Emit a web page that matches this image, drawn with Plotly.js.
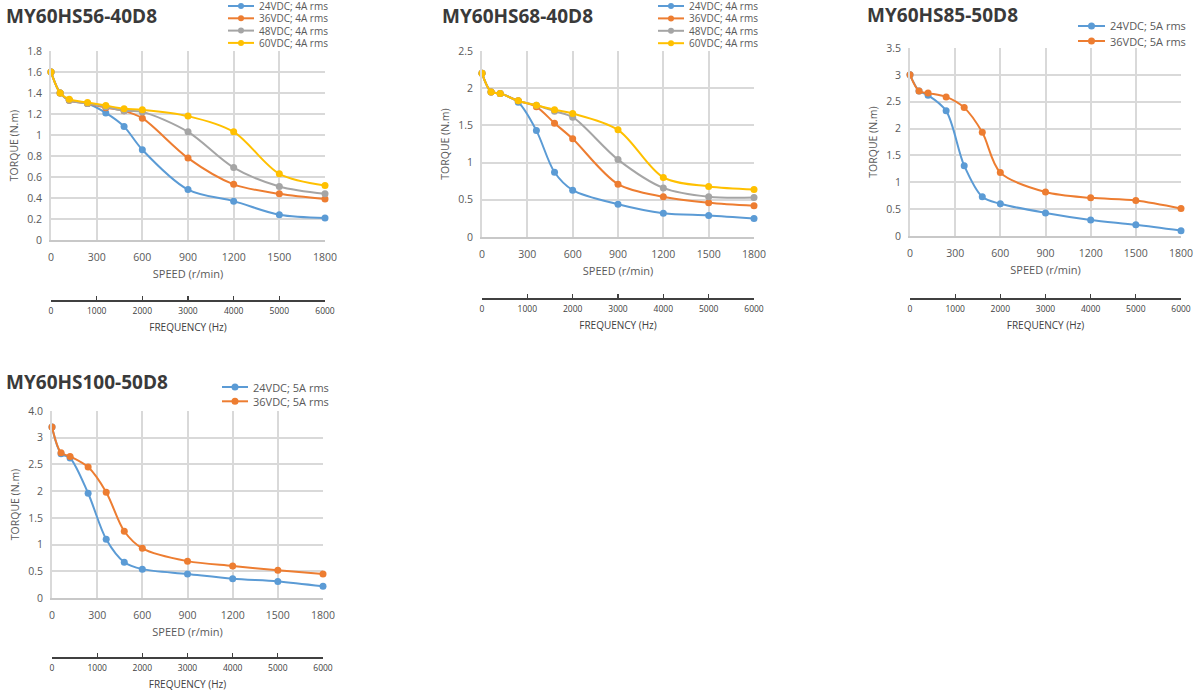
<!DOCTYPE html>
<html>
<head>
<meta charset="utf-8">
<script src="https://cdn.plot.ly/plotly-3.0.1.min.js"></script>
<style>html,body{margin:0;padding:0;background:#fff;}#chart{width:1200px;height:694px;}</style>
</head>
<body>
<div id="chart"></div>
<script>
// ---------------- DATA ----------------
const speed = [0, 60, 120, 240, 360, 480, 600, 900, 1200, 1500, 1800];
const freqTicks = [0, 1000, 2000, 3000, 4000, 5000, 6000];

const titles = ["MY60HS56-40D8", "MY60HS68-40D8", "MY60HS85-50D8", "MY60HS100-50D8"];
const names4A = ["24VDC; 4A rms", "36VDC; 4A rms", "48VDC; 4A rms", "60VDC; 4A rms"];
const names5A = ["24VDC; 5A rms", "36VDC; 5A rms"];

const t56_24 = [1.6, 1.4, 1.33, 1.3, 1.21, 1.08, 0.86, 0.48, 0.37, 0.24, 0.21];
const t56_36 = [1.6, 1.4, 1.33, 1.3, 1.26, 1.23, 1.16, 0.78, 0.53, 0.44, 0.39];
const t56_48 = [1.6, 1.4, 1.33, 1.3, 1.27, 1.23, 1.22, 1.03, 0.69, 0.51, 0.44];
const t56_60 = [1.6, 1.4, 1.34, 1.31, 1.28, 1.25, 1.24, 1.18, 1.03, 0.63, 0.52];

const t68_24 = [2.2, 1.95, 1.93, 1.81, 1.43, 0.87, 0.63, 0.44, 0.32, 0.29, 0.25];
const t68_36 = [2.2, 1.95, 1.93, 1.83, 1.75, 1.53, 1.32, 0.71, 0.54, 0.46, 0.42];
const t68_48 = [2.2, 1.95, 1.93, 1.83, 1.77, 1.69, 1.61, 1.04, 0.66, 0.54, 0.53];
const t68_60 = [2.2, 1.95, 1.93, 1.83, 1.77, 1.71, 1.66, 1.44, 0.80, 0.68, 0.64];

const t85_24 = [3.0, 2.7, 2.62, 2.33, 1.31, 0.73, 0.60, 0.43, 0.30, 0.21, 0.10];
const t85_36 = [3.0, 2.7, 2.66, 2.59, 2.39, 1.93, 1.18, 0.82, 0.71, 0.66, 0.51];

const t100_24 = [3.2, 2.7, 2.62, 1.96, 1.10, 0.67, 0.54, 0.45, 0.36, 0.31, 0.22];
const t100_36 = [3.2, 2.72, 2.65, 2.45, 1.98, 1.25, 0.93, 0.69, 0.60, 0.52, 0.45];

const y100TickVals = [0, 0.5, 1, 1.5, 2, 2.5, 3, 3.5];
const y100TickText = ["0", "0.5", "1", "1.5", "2", "2.5", "3", "4.0"];

// ---------------- STYLE / LAYOUT ----------------
const W = 1200, H = 694;
const PX = p => p / W;
const PY = p => 1 - p / H;
const colors = ["#5B9BD5", "#ED7D31", "#A5A5A5", "#FFC000"];
const FONT = "Open Sans, DejaVu Sans, sans-serif";
const GRAY = "#595959";
const GRID = "#d9d9d9";

const panels = [
  { title: titles[0], names: names4A, series: [t56_24, t56_36, t56_48, t56_60],
    box: {l: 51, r: 325, t: 51, b: 240}, yRange: [0, 1.8], dtick: 0.2,
    freqLine: 300, titleX: 4, titleY: 16,
    leg: {x0: 228, x1: 254, tx: 257, y0: 6, dy: 12.3, font: 10, ms: 3} },
  { title: titles[1], names: names4A, series: [t68_24, t68_36, t68_48, t68_60],
    box: {l: 482, r: 754, t: 51, b: 237}, yRange: [0, 2.5], dtick: 0.5,
    freqLine: 298, titleX: 440, titleY: 16,
    leg: {x0: 658, x1: 684, tx: 687, y0: 6, dy: 12.4, font: 10, ms: 3} },
  { title: titles[2], names: names5A, series: [t85_24, t85_36],
    box: {l: 910, r: 1181, t: 48, b: 236}, yRange: [0, 3.5], dtick: 0.5,
    freqLine: 298, titleX: 865, titleY: 15,
    leg: {x0: 1078, x1: 1105, tx: 1108, y0: 26, dy: 15, font: 11, ms: 3.5} },
  { title: titles[3], names: names5A, series: [t100_24, t100_36],
    box: {l: 52, r: 323, t: 411, b: 598}, yRange: [0, 3.5], tickvals: y100TickVals, ticktext: y100TickText,
    freqLine: 657, titleX: 4, titleY: 382,
    leg: {x0: 222, x1: 248, tx: 251, y0: 387, dy: 14.3, font: 11, ms: 3.5} }
];

const data = [];
const layout = {
  width: W, height: H,
  margin: {l: 0, r: 0, t: 0, b: 0},
  paper_bgcolor: "#ffffff", plot_bgcolor: "#ffffff",
  showlegend: false,
  font: {family: FONT, color: GRAY},
  annotations: [], shapes: []
};

panels.forEach((p, k) => {
  const n = k + 1;
  const xid = n === 1 ? "x" : "x" + n;
  const yid = n === 1 ? "y" : "y" + n;
  const fid = "x" + (n + 4);
  const xkey = n === 1 ? "xaxis" : "xaxis" + n;
  const ykey = n === 1 ? "yaxis" : "yaxis" + n;
  const fkey = "xaxis" + (n + 4);
  const xd = [PX(p.box.l), PX(p.box.r)];
  const yd = [PY(p.box.b), PY(p.box.t)];

  p.series.forEach((vals, i) => {
    data.push({
      type: "scatter", mode: "lines+markers", name: p.names[i],
      x: speed, y: vals, xaxis: xid, yaxis: yid,
      line: {color: colors[i], width: 2, shape: "spline", smoothing: 0.9},
      marker: {color: colors[i], size: 7},
      cliponaxis: false, showlegend: false
    });
  });
  // empty trace to register the frequency axis
  data.push({type: "scatter", mode: "markers", x: [], y: [], xaxis: fid, yaxis: yid, showlegend: false, hoverinfo: "skip"});

  layout[xkey] = {
    domain: xd, anchor: yid, range: [0, 1800], dtick: 300, tick0: 0,
    showgrid: true, gridcolor: GRID, gridwidth: 2,
    showline: true, linecolor: "#c8c8c8", linewidth: 2, zeroline: false,
    ticks: "", ticklabelstandoff: 6,
    tickfont: {size: 10.5, color: GRAY, family: FONT},
    title: {text: "SPEED (r/min)", standoff: 8, font: {size: 11, color: GRAY, family: FONT}},
    fixedrange: true
  };
  const ya = {
    domain: yd, anchor: xid, range: p.yRange,
    showgrid: true, gridcolor: GRID, gridwidth: 2,
    showline: true, linecolor: GRID, linewidth: 2, zeroline: false,
    ticks: "", ticklabelstandoff: 5,
    tickfont: {size: 10.5, color: GRAY, family: FONT},
    title: {text: "TORQUE (N.m)", standoff: 6, font: {size: 10.5, color: GRAY, family: FONT}},
    fixedrange: true
  };
  if (p.tickvals) { ya.tickmode = "array"; ya.tickvals = p.tickvals; ya.ticktext = p.ticktext; }
  else { ya.dtick = p.dtick; ya.tick0 = 0; }
  layout[ykey] = ya;

  layout[fkey] = {
    overlaying: xid, anchor: "free", position: PY(p.freqLine), domain: xd,
    range: [0, 6000], tickmode: "array", tickvals: freqTicks,
    showgrid: false, zeroline: false,
    showline: true, linecolor: "#404040", linewidth: 1.5,
    ticks: "inside", ticklen: 4, tickwidth: 1.2, tickcolor: "#404040",
    ticklabelstandoff: 2,
    tickfont: {size: 8.5, color: "#404040", family: FONT},
    title: {text: "FREQUENCY (Hz)", standoff: 9, font: {size: 10, color: "#404040", family: FONT}},
    fixedrange: true
  };

  // chart title
  layout.annotations.push({
    xref: "paper", yref: "paper", x: PX(p.titleX), y: PY(p.titleY), xanchor: "left", yanchor: "middle",
    text: "<b>" + p.title + "</b>", showarrow: false,
    font: {size: 19, color: "#3a3a3a", family: FONT}
  });

  // legend (manual, compact like the original)
  p.names.forEach((nm, i) => {
    const yy = p.leg.y0 + i * p.leg.dy;
    layout.shapes.push({
      type: "line", xref: "paper", yref: "paper",
      x0: PX(p.leg.x0), x1: PX(p.leg.x1), y0: PY(yy), y1: PY(yy),
      line: {color: colors[i], width: 2}
    });
    layout.shapes.push({
      type: "circle", xref: "paper", yref: "paper",
      xsizemode: "pixel", ysizemode: "pixel",
      xanchor: PX((p.leg.x0 + p.leg.x1) / 2), yanchor: PY(yy),
      x0: -p.leg.ms, x1: p.leg.ms, y0: -p.leg.ms, y1: p.leg.ms,
      fillcolor: colors[i], line: {width: 0}
    });
    layout.annotations.push({
      xref: "paper", yref: "paper", x: PX(p.leg.tx), y: PY(yy), xanchor: "left", yanchor: "middle",
      text: nm, showarrow: false,
      font: {size: p.leg.font, color: GRAY, family: FONT}
    });
  });
});

Plotly.newPlot("chart", data, layout, {displayModeBar: false, staticPlot: true});
</script>
</body>
</html>
